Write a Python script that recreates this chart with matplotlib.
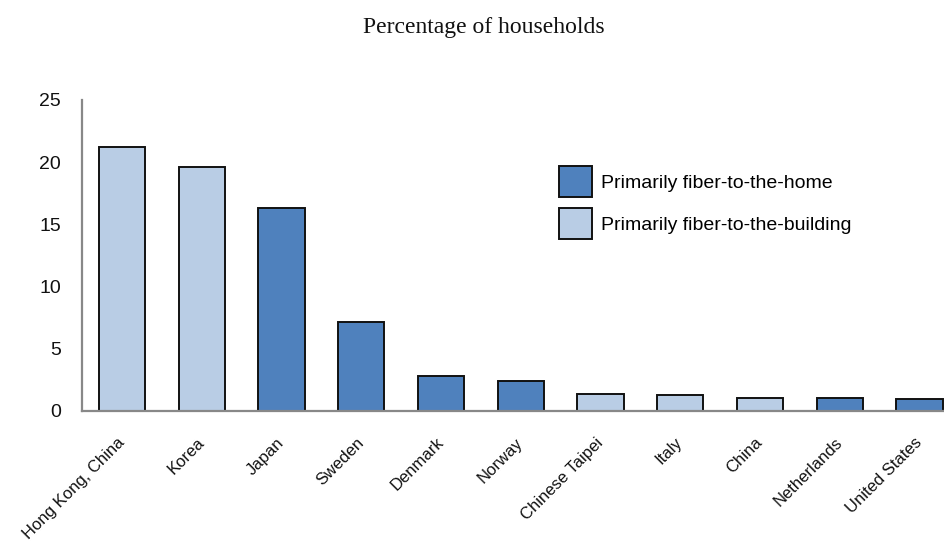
import matplotlib
matplotlib.use("Agg")
import matplotlib.pyplot as plt
from matplotlib.patches import Patch

# share of households with fibre connections, by country
countries = ["Hong Kong, China", "Korea", "Japan", "Sweden", "Denmark", "Norway",
             "Chinese Taipei", "Italy", "China", "Netherlands", "United States"]
values = [21.2, 19.6, 16.35, 7.15, 2.85, 2.45, 1.35, 1.25, 1.08, 1.08, 0.97]
# "home" = primarily fiber-to-the-home, "building" = primarily fiber-to-the-building
fiber_type = ["building", "building", "home", "home", "home", "home",
              "building", "building", "building", "home", "home"]

colors = {"home": "#4F81BD", "building": "#B9CDE5"}
labels = {"home": "Primarily fiber-to-the-home",
          "building": "Primarily fiber-to-the-building"}

plt.rcParams["font.family"] = ["Liberation Sans", "DejaVu Sans"]

fig = plt.figure(figsize=(9.45, 5.49), dpi=100)
ax = fig.add_axes([0.0868, 0.2514, 1 - 0.0868, 0.5665])

x = range(len(countries))
ax.bar(x, values, width=0.58, color=[colors[t] for t in fiber_type],
       edgecolor="#111111", linewidth=1.4, zorder=2)

ax.set_xlim(-0.5, 10.32)
ax.set_ylim(0, 25)
ax.set_yticks([0, 5, 10, 15, 20, 25])
ax.tick_params(axis="y", length=0, pad=15, labelsize=14, labelcolor="#111111")
ax.set_xticks(list(x))
ax.set_xticklabels(countries, rotation=45, ha="right", va="center",
                   rotation_mode="anchor", fontsize=12, color="#111111")
ax.tick_params(axis="x", length=0, pad=21)

for side in ["top", "right"]:
    ax.spines[side].set_visible(False)
for side in ["left", "bottom"]:
    ax.spines[side].set_color("#888888")
    ax.spines[side].set_linewidth(1.6)

handles = [Patch(facecolor=colors[k], edgecolor="#111111", linewidth=1.4, label=labels[k])
           for k in ["home", "building"]]
fig.legend(handles=handles, loc="upper left", bbox_to_anchor=(559 / 945, 1 - 166 / 549),
           frameon=False, fontsize=14, handlelength=1.7, handleheight=2.1,
           labelspacing=0.55, handletextpad=0.45, borderaxespad=0, borderpad=0)

fig.text(484 / 945, 1 - 28 / 549, "Percentage of households", ha="center", va="center",
         family="Liberation Serif", fontsize=17, color="#111111")

fig.savefig("out.png", dpi=100)
